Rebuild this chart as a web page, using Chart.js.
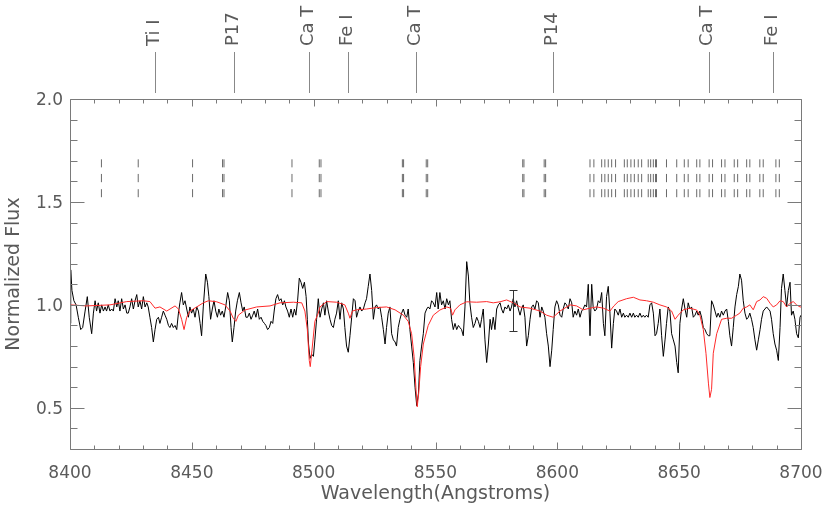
<!DOCTYPE html>
<html><head><meta charset="utf-8">
<script src="https://cdn.jsdelivr.net/npm/chart.js@4/dist/chart.umd.min.js"></script>
<style>html,body{margin:0;padding:0;background:#fff;}canvas{display:block;}</style>
</head><body>
<canvas id="c" width="830" height="513"></canvas>
<script>
// ---------- DATA ----------
const blackWave = [
8400.0,8400.3,8400.8,8401.6,8402.5,8403.4,8404.4,8405.2,8406.2,8407.1,
8407.9,8408.9,8409.6,8410.3,8410.9,8411.6,8412.3,8413.0,8413.7,8414.4,
8415.0,8415.7,8416.4,8417.1,8417.8,8418.5,8419.2,8419.8,8420.5,8421.2,
8421.9,8422.6,8423.3,8423.9,8424.6,8425.3,8426.0,8426.7,8427.4,8428.0,
8428.7,8429.4,8430.1,8430.8,8431.5,8432.1,8432.8,8433.5,8434.2,8434.9,
8435.6,8436.3,8436.9,8437.6,8438.3,8439.0,8439.7,8440.4,8441.0,8441.7,
8442.4,8443.1,8443.8,8444.5,8445.1,8445.8,8446.5,8447.2,8447.9,8448.6,
8449.2,8449.9,8450.6,8451.3,8452.0,8452.7,8453.4,8454.0,8454.7,8455.7,
8456.4,8457.0,8457.7,8458.4,8459.1,8459.8,8460.5,8461.1,8461.8,8462.5,
8463.2,8463.9,8464.7,8465.4,8466.1,8466.6,8467.3,8468.0,8468.7,8469.5,
8470.2,8470.9,8471.5,8472.2,8472.9,8473.6,8474.3,8475.0,8475.6,8476.3,
8477.0,8477.7,8478.4,8479.1,8479.8,8480.4,8481.1,8481.8,8482.5,8483.2,
8483.9,8484.5,8485.2,8485.9,8486.6,8487.3,8488.0,8488.6,8489.3,8490.0,
8490.7,8491.4,8492.1,8492.7,8493.4,8494.1,8494.8,8495.5,8496.2,8496.9,
8497.4,8497.9,8498.5,8499.2,8499.9,8500.5,8501.2,8501.9,8502.6,8503.3,
8504.0,8504.6,8505.3,8506.0,8506.7,8507.4,8508.1,8508.7,8509.4,8510.1,
8510.8,8511.5,8512.2,8512.8,8513.5,8514.2,8514.9,8515.6,8516.3,8517.0,
8517.6,8518.3,8519.0,8519.7,8520.4,8521.1,8521.7,8522.4,8523.1,8523.8,
8524.5,8525.2,8525.8,8526.5,8527.2,8527.9,8528.6,8529.3,8529.9,8530.6,
8531.3,8532.0,8532.7,8533.4,8534.0,8534.7,8535.4,8536.1,8536.8,8537.5,
8538.2,8538.8,8539.5,8540.2,8540.9,8541.6,8542.3,8543.0,8543.6,8544.3,
8545.0,8545.7,8546.4,8547.0,8547.7,8548.4,8549.1,8549.8,8550.5,8551.1,
8551.8,8552.5,8553.2,8553.9,8554.6,8555.3,8555.9,8556.6,8557.3,8558.0,
8558.7,8559.4,8560.0,8560.7,8561.4,8562.1,8562.8,8563.5,8564.1,8564.8,
8565.5,8566.2,8566.9,8567.6,8568.3,8568.9,8569.6,8570.3,8571.0,8571.7,
8572.4,8573.0,8573.7,8574.4,8575.1,8575.8,8576.5,8577.1,8577.8,8578.5,
8579.2,8579.9,8580.6,8581.2,8581.9,8582.6,8583.3,8584.0,8584.7,8585.3,
8586.0,8586.7,8587.4,8588.1,8588.8,8589.5,8590.1,8590.8,8591.5,8592.2,
8592.9,8593.6,8594.2,8594.9,8595.6,8596.3,8597.0,8597.7,8598.3,8599.0,
8599.7,8600.4,8601.1,8601.8,8602.4,8603.1,8603.8,8604.5,8605.2,8605.9,
8606.5,8607.2,8607.9,8608.6,8609.3,8610.0,8610.6,8611.3,8612.0,8612.7,
8613.4,8614.1,8614.7,8615.4,8616.1,8616.8,8617.5,8618.2,8618.9,8619.5,
8620.2,8620.9,8621.6,8622.3,8623.0,8623.6,8624.3,8625.0,8625.7,8626.4,
8627.1,8627.7,8628.4,8629.1,8629.8,8630.5,8631.2,8631.8,8632.5,8633.2,
8633.9,8634.6,8635.3,8635.9,8636.6,8637.3,8638.0,8638.7,8639.4,8640.1,
8640.7,8641.4,8642.1,8642.8,8643.5,8644.2,8644.8,8645.5,8646.2,8646.9,
8647.6,8648.3,8649.0,8649.6,8650.3,8651.0,8651.7,8652.4,8653.1,8653.7,
8654.4,8655.1,8655.8,8656.5,8657.2,8657.8,8658.5,8659.2,8659.9,8660.6,
8661.3,8662.0,8662.6,8663.3,8664.0,8664.7,8665.4,8666.0,8666.7,8667.4,
8668.1,8668.8,8669.5,8670.2,8670.8,8671.5,8672.2,8672.9,8673.6,8674.3,
8674.9,8675.6,8676.3,8677.0,8677.7,8678.4,8679.0,8679.7,8680.4,8681.1,
8681.8,8682.5,8683.2,8683.8,8684.5,8685.2,8685.9,8686.6,8687.3,8687.9,
8688.6,8689.3,8690.0,8690.7,8691.4,8692.0,8692.7,8693.4,8694.1,8694.8,
8695.5,8696.1,8696.8,8697.5,8698.2,8698.9,8699.6,8700.0];
const blackFlux = [
0.91,1.17,1.07,1.02,1.00,0.94,0.88,0.89,0.97,1.04,
0.94,0.86,0.96,1.02,0.97,1.01,0.96,1.00,0.97,0.99,
0.97,1.00,0.97,0.98,0.97,1.03,0.99,1.02,0.97,1.03,
0.98,1.00,0.96,0.96,0.99,1.03,0.98,1.02,1.05,0.99,
1.02,0.98,1.04,0.99,1.01,0.99,0.94,0.89,0.82,0.88,
0.93,0.94,0.91,0.94,0.97,0.95,0.93,0.90,0.89,0.91,
0.89,0.90,0.88,0.96,1.01,1.06,1.00,1.02,0.98,0.94,
0.99,0.96,0.98,0.94,0.99,0.97,0.91,0.85,0.99,1.15,
1.11,1.04,0.93,0.98,1.02,0.97,0.94,0.98,0.95,0.97,
0.94,0.99,1.06,1.02,0.89,0.82,0.89,0.97,1.02,1.06,
1.01,0.97,0.99,0.94,0.94,0.96,0.93,0.95,0.97,0.94,
0.98,0.93,0.94,0.92,0.91,0.90,0.88,0.89,0.92,0.91,
0.98,1.03,1.05,1.02,1.03,1.00,1.02,0.99,0.97,0.94,
0.98,0.94,0.98,0.95,1.02,1.13,1.11,1.08,1.11,1.04,
0.93,0.81,0.74,0.76,0.75,0.83,0.93,1.03,0.94,0.98,
1.01,0.95,1.02,0.97,0.93,0.90,0.89,0.93,0.96,1.02,
0.93,1.01,0.98,0.89,0.80,0.77,0.85,0.94,1.03,1.02,
0.94,0.97,0.99,0.97,0.98,1.01,1.03,1.09,1.15,1.07,
0.93,0.99,1.00,0.98,0.99,0.94,0.88,0.81,0.89,0.96,
0.99,0.86,0.83,0.82,0.80,0.89,0.93,0.96,0.98,0.95,
0.94,0.98,0.88,0.80,0.72,0.60,0.51,0.57,0.73,0.80,
0.86,0.96,0.98,0.99,0.98,1.02,1.01,0.99,1.06,0.98,
1.06,1.00,1.02,0.98,1.03,1.00,1.02,0.93,0.88,0.91,
0.88,0.90,0.89,0.88,0.85,0.99,1.21,1.14,1.01,0.94,
0.89,0.91,0.94,0.92,0.89,0.93,0.98,0.83,0.72,0.81,
0.93,0.88,0.94,0.88,0.98,1.00,1.01,0.98,0.96,0.99,
0.98,1.00,0.97,0.99,1.03,0.99,1.02,0.98,0.95,0.98,
1.00,0.94,0.80,0.85,0.93,0.99,1.00,0.98,1.02,1.01,
0.94,0.99,0.97,0.94,0.86,0.80,0.70,0.78,0.88,0.99,
1.02,1.00,0.95,0.94,0.98,1.01,1.00,0.98,1.03,1.01,
0.94,0.97,0.95,0.98,0.94,0.97,0.98,1.00,0.99,1.10,
0.85,1.10,0.99,0.97,0.98,1.02,1.01,1.06,0.91,0.85,
1.04,1.09,0.96,0.79,0.91,0.98,0.97,0.95,0.98,0.94,
0.96,0.94,0.95,0.94,0.96,0.94,0.96,0.94,0.95,0.94,
0.96,0.94,0.95,0.94,0.95,0.94,1.00,1.01,0.96,0.85,
0.86,0.91,0.98,0.85,0.75,0.83,0.91,0.99,0.97,0.86,
0.83,0.80,0.72,0.67,0.91,0.98,1.03,0.98,0.94,1.01,
0.98,0.99,0.94,0.95,0.97,0.95,0.97,0.94,0.89,0.88,
0.86,0.85,0.85,1.02,1.00,0.97,0.94,0.96,0.94,0.97,
0.95,0.97,0.98,0.92,0.85,0.80,0.89,0.99,1.05,1.09,
1.15,1.12,1.02,0.96,0.93,0.94,0.96,0.93,0.89,0.83,
0.78,0.83,0.88,0.93,0.97,0.98,0.99,0.98,0.97,0.93,
0.86,0.81,0.78,0.73,0.89,1.08,1.15,1.07,0.99,1.07,
1.11,0.95,0.97,0.93,0.86,0.84,0.94,0.95];

const modelWave = [
8400.0,8406.8,8416.4,8423.3,8430.1,8432.8,8434.9,8436.9,8439.7,8443.1,
8444.5,8445.8,8446.8,8447.9,8449.2,8452.0,8454.7,8456.8,8460.2,8463.6,
8465.7,8467.0,8468.1,8469.1,8471.8,8476.6,8482.1,8486.2,8491.7,8495.1,
8496.4,8497.4,8498.2,8498.6,8499.3,8500.5,8501.9,8502.6,8505.3,8509.4,
8512.8,8514.2,8514.9,8515.9,8517.6,8521.7,8525.8,8529.9,8533.4,8536.8,
8538.8,8540.2,8541.2,8542.0,8542.5,8543.1,8543.9,8545.0,8547.0,8549.1,
8551.8,8554.6,8556.2,8557.0,8558.0,8560.0,8562.8,8566.9,8571.0,8573.7,
8576.5,8579.2,8581.9,8584.7,8588.8,8592.9,8595.6,8598.3,8601.1,8605.2,
8607.9,8610.6,8613.4,8616.1,8618.9,8621.6,8623.2,8625.0,8628.4,8631.2,
8633.9,8636.6,8639.4,8642.1,8644.8,8646.9,8648.3,8649.6,8651.7,8654.4,
8657.2,8658.5,8659.9,8661.0,8662.0,8662.6,8663.3,8664.0,8665.4,8667.4,
8669.5,8671.5,8673.6,8674.9,8676.3,8677.7,8679.0,8680.4,8681.8,8683.2,
8684.5,8685.9,8687.3,8688.6,8690.0,8691.4,8692.7,8694.1,8695.5,8696.8,
8698.2,8699.6,8700.0];
const modelFlux = [
1.00,0.995,1.00,1.016,1.02,1.016,0.984,0.99,0.97,0.995,
0.98,0.93,0.88,0.94,0.97,0.99,1.01,1.02,1.015,1.00,
0.97,0.935,0.92,0.95,0.975,0.99,0.995,1.01,1.013,1.01,
0.97,0.88,0.73,0.70,0.78,0.92,0.96,0.99,1.016,1.013,
1.00,0.96,0.935,0.97,0.976,0.98,0.987,0.99,0.976,0.95,
0.92,0.86,0.75,0.59,0.505,0.57,0.70,0.81,0.90,0.95,
0.975,0.99,0.984,0.95,0.976,1.00,1.015,1.013,1.016,1.01,
1.015,1.024,1.01,0.99,0.984,0.97,0.95,0.94,0.97,1.00,
0.995,0.976,0.984,0.99,0.984,0.97,0.995,1.016,1.03,1.037,
1.024,1.02,1.013,1.00,0.99,0.97,0.93,0.95,0.976,0.984,
0.975,0.95,0.88,0.765,0.62,0.55,0.59,0.765,0.86,0.93,
0.935,0.935,0.95,0.96,0.984,0.99,1.00,0.976,1.016,1.024,
1.04,1.032,1.008,0.99,1.00,1.02,1.016,0.99,1.008,1.016,
1.00,0.99,0.99];

// short telluric/sky line markers (wavelengths) and the flux ranges of their three dashes
const skyLineWave = [8412.9,8428.0,8450.3,8462.6,8463.2,8491.1,8502.3,8503.0,8536.4,8536.9,
8546.2,8546.8,8585.8,8586.3,8594.6,8595.2,8613.4,8615.0,8618.2,8619.5,8620.9,8622.3,8623.9,
8627.5,8628.7,8630.2,8631.6,8633.2,8634.6,8637.3,8638.3,8639.4,8640.3,8640.7,8644.8,8649.0,
8652.1,8653.7,8657.2,8658.5,8662.3,8663.7,8667.4,8668.8,8672.6,8674.0,8677.7,8679.0,8683.1,
8684.5,8689.7,8691.1];
const dashLow  = [1.523, 1.596, 1.668];
const dashHigh = [1.562, 1.636, 1.707];

// line identifications on top
const idWave  = [8434.96, 8467.25, 8498.02, 8514.07, 8542.09, 8598.39, 8662.14, 8688.63];
const idLabel = ['Ti I', 'P17', 'Ca T', 'Fe I', 'Ca T', 'P14', 'Ca T', 'Fe I'];

// representative error bar
const errWave = 8582.0, errLow = 0.875, errHigh = 1.073;

const xTickValues = [8400, 8450, 8500, 8550, 8600, 8650, 8700];
const yTickValues = [0.5, 1.0, 1.5, 2.0];
const xMin = 8400, xMax = 8700, yMin = 0.3, yMax = 2.0;

// ---------- BUILD ----------
const blackData = blackWave.map((w, i) => ({x: w, y: blackFlux[i]}));
const modelData = modelWave.map((w, i) => ({x: w, y: modelFlux[i]}));
const skyData = [];
skyLineWave.forEach(w => {
  for (let k = 0; k < dashLow.length; k++) {
    skyData.push({x: w, y: dashLow[k]}, {x: w, y: dashHigh[k]}, {x: w, y: null});
  }
});

const FONT = '"DejaVu Sans", "Liberation Sans", sans-serif';
const AXIS_COLOR = '#7a7a7a';
const TEXT_COLOR = '#5a5a5a';

const idlFrame = {
  id: 'idlFrame',
  afterDatasetsDraw(chart) {
    const {ctx, chartArea: a, scales: {x, y}} = chart;
    ctx.save();
    ctx.strokeStyle = AXIS_COLOR;
    ctx.lineWidth = 1;
    const L = Math.round(a.left) + 0.5, R = Math.round(a.right) + 0.5;
    const T = Math.round(a.top) + 0.5, B = Math.round(a.bottom) + 0.5;
    ctx.beginPath();
    ctx.moveTo(L, T); ctx.lineTo(R, T); ctx.lineTo(R, B); ctx.lineTo(L, B); ctx.closePath();
    for (let v = xMin; v <= xMax; v += 10) {
      const px = Math.round(x.getPixelForValue(v)) + 0.5;
      const len = (v % 50 === 0) ? 7 : 4;
      ctx.moveTo(px, B); ctx.lineTo(px, B - len);
      ctx.moveTo(px, T); ctx.lineTo(px, T + len);
    }
    for (let k = 3; k <= 20; k++) {
      const py = Math.round(y.getPixelForValue(k / 10)) + 0.5;
      const len = (k % 5 === 0) ? 14 : 7;
      ctx.moveTo(L, py); ctx.lineTo(L + len, py);
      ctx.moveTo(R, py); ctx.lineTo(R - len, py);
    }
    ctx.stroke();

    // error bar
    ctx.strokeStyle = '#333333';
    const ex = Math.round(x.getPixelForValue(errWave)) + 0.5;
    const ey1 = Math.round(y.getPixelForValue(errHigh)) + 0.5;
    const ey2 = Math.round(y.getPixelForValue(errLow)) + 0.5;
    ctx.beginPath();
    ctx.moveTo(ex, ey1); ctx.lineTo(ex, ey2);
    ctx.moveTo(ex - 4, ey1); ctx.lineTo(ex + 4, ey1);
    ctx.moveTo(ex - 4, ey2); ctx.lineTo(ex + 4, ey2);
    ctx.stroke();

    // line identifications
    ctx.strokeStyle = '#888888';
    ctx.fillStyle = TEXT_COLOR;
    ctx.font = '18px ' + FONT;
    ctx.beginPath();
    idWave.forEach(w => {
      const px = Math.round(x.getPixelForValue(w)) + 0.5;
      ctx.moveTo(px, a.top - 6); ctx.lineTo(px, a.top - 47);
    });
    ctx.stroke();
    idWave.forEach((w, i) => {
      const px = x.getPixelForValue(w);
      ctx.save();
      ctx.translate(px - 1, a.top - 53);
      ctx.rotate(-Math.PI / 2);
      ctx.textAlign = 'left';
      ctx.textBaseline = 'middle';
      ctx.fillText(idLabel[i], 0, 0);
      ctx.restore();
    });
    ctx.restore();
  }
};

new Chart(document.getElementById('c'), {
  type: 'line',
  data: {
    datasets: [
      {label: 'model', data: modelData, borderColor: '#ff2a2a', borderWidth: 1, pointRadius: 0, tension: 0},
      {label: 'observed', data: blackData, borderColor: '#000000', borderWidth: 1, pointRadius: 0, tension: 0},
      {label: 'sky', data: skyData, borderColor: '#6a6a6a', borderWidth: 1, pointRadius: 0, tension: 0, spanGaps: false}
    ]
  },
  options: {
    responsive: false,
    animation: false,
    devicePixelRatio: 1,
    events: [],
    layout: {padding: {left: 0, right: 29, top: 99, bottom: 0}},
    plugins: {legend: {display: false}, tooltip: {enabled: false}},
    scales: {
      x: {
        type: 'linear', min: xMin, max: xMax, offset: false,
        grid: {display: false, drawTicks: false}, border: {display: false},
        afterBuildTicks: s => { s.ticks = xTickValues.map(v => ({value: v})); },
        afterFit: s => { s.height = 64; s.paddingLeft = 0; s.paddingRight = 0; },
        ticks: {padding: 14, color: TEXT_COLOR, font: {family: FONT, size: 17}, maxRotation: 0,
                callback: v => String(v)},
        title: {display: true, text: 'Wavelength(Angstroms)', color: TEXT_COLOR,
                font: {family: FONT, size: 19}, padding: {top: 0, bottom: 8}}
      },
      y: {
        type: 'linear', min: yMin, max: yMax,
        grid: {display: false, drawTicks: false}, border: {display: false},
        afterBuildTicks: s => { s.ticks = yTickValues.map(v => ({value: v})); },
        afterFit: s => { s.width = 70; s.paddingTop = 0; s.paddingBottom = 0; },
        ticks: {padding: 7, labelOffset: 2, color: TEXT_COLOR, font: {family: FONT, size: 17},
                callback: v => Number(v).toFixed(1)},
        title: {display: true, text: 'Normalized Flux', color: TEXT_COLOR,
                font: {family: FONT, size: 19}, padding: {top: 3, bottom: 0}}
      }
    }
  },
  plugins: [idlFrame]
});
</script>
</body></html>
